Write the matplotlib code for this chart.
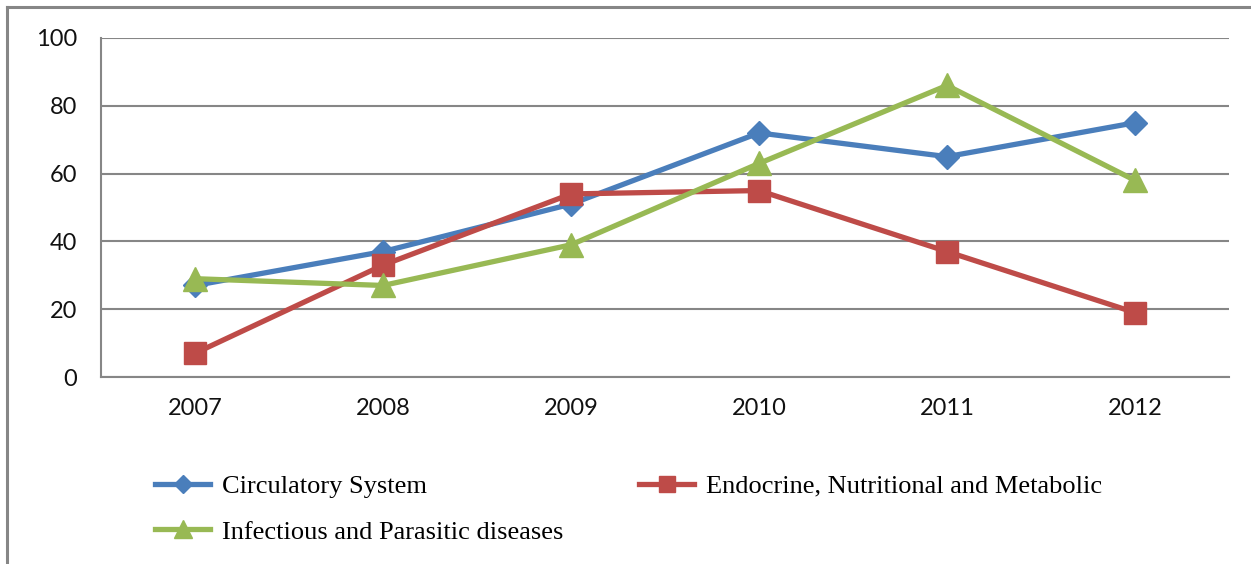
import matplotlib.pyplot as plt
from matplotlib.lines import Line2D

years = ["2007", "2008", "2009", "2010", "2011", "2012"]
circulatory = [27, 37, 51, 72, 65, 75]
endocrine = [7, 33, 54, 55, 37, 19]
infectious = [29, 27, 39, 63, 86, 58]
labels = ["Circulatory System",
          "Endocrine, Nutritional and Metabolic",
          "Infectious and Parasitic diseases"]
yticks = [0, 20, 40, 60, 80, 100]

fig = plt.figure(figsize=(12.51, 5.64), dpi=100)
ax = fig.add_axes([101/1251, 1 - 377/564, (1229-101)/1251, (377-38)/564])

x = range(len(years))
h1, = ax.plot(x, circulatory, color="#4A7EBB", lw=3.8, marker="D", ms=12, label=labels[0])
h2, = ax.plot(x, endocrine, color="#BE4B48", lw=3.8, marker="s", ms=16, label=labels[1])
h3, = ax.plot(x, infectious, color="#98B954", lw=3.8, marker="^", ms=17, label=labels[2])

ax.set_xlim(-0.5, len(years) - 0.5)
ax.set_ylim(0, 100)
ax.set_xticks(list(x))
ax.set_xticklabels(years)
ax.set_yticks(yticks)
ax.tick_params(length=0, labelsize=17, labelcolor="#111111")
ax.tick_params(axis="x", pad=15)
ax.tick_params(axis="y", pad=17)
for lab in ax.get_xticklabels() + ax.get_yticklabels():
    lab.set_family("Lato")
ax.grid(axis="y", color="#868686", lw=1.5)
ax.set_axisbelow(True)
for s in ["top", "right"]:
    ax.spines[s].set_visible(False)
ax.spines["left"].set_color("#868686")
ax.spines["bottom"].set_color("#868686")
ax.spines["left"].set_linewidth(1.5)
ax.spines["bottom"].set_linewidth(1.5)

# outer chart frame (only left and top visible)
fig.add_artist(Line2D([7/1251, 7/1251], [0, 1 - 7/564], color="#868686", lw=2.2,
                      transform=fig.transFigure))
fig.add_artist(Line2D([7/1251, 1], [1 - 7/564, 1 - 7/564], color="#868686", lw=2.2,
                      transform=fig.transFigure))

# order so rows read: Circulatory, Endocrine / Infectious
fig.legend([h1, h3, h2], [labels[0], labels[2], labels[1]],
           loc="center left", bbox_to_anchor=(155/1251, 1 - 509/564),
           bbox_transform=fig.transFigure, ncol=2, frameon=False,
           prop={"family": "Liberation Serif", "size": 19},
           handlelength=2.1, handletextpad=0.45, columnspacing=2.85,
           labelspacing=0.85, borderpad=0, borderaxespad=0, markerscale=0.75)

fig.savefig("out.png", dpi=100)
